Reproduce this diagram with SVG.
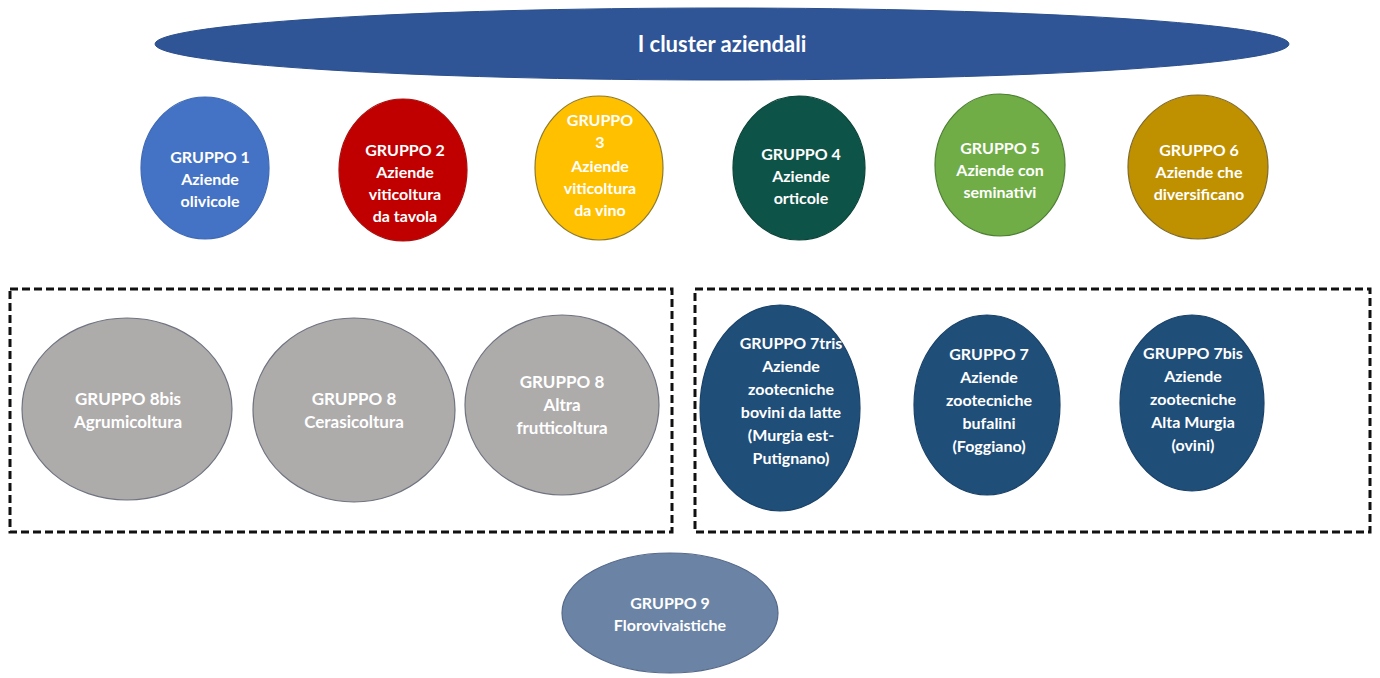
<svg xmlns="http://www.w3.org/2000/svg" width="1380" height="678" viewBox="0 0 1380 678">
  <style>
    .t { font-family: Lato, "Open Sans", "Liberation Sans", sans-serif; font-weight: 700; font-size: 16px; text-anchor: middle; fill: #ffffff; }
    .title { font-size: 22px; }
    .big { font-size: 17px; }
    .box { fill: none; stroke: #111111; stroke-width: 3; stroke-dasharray: 8 4; }
    .c { stroke-width: 1.2; }
  </style>
  <rect width="1380" height="678" fill="#ffffff"/>

  <!-- header -->
  <g id="header">
    <ellipse cx="722" cy="44" rx="567" ry="36" fill="#2F5597" stroke="#2B4F8C" stroke-width="1"/>
    <text class="t title" x="722" y="52">I cluster aziendali</text>
  </g>

  <!-- top row of clusters -->
  <g id="gruppo1">
    <ellipse class="c" cx="205" cy="168" rx="64" ry="71" fill="#4472C4" stroke="#3F69B4"/>
    <text class="t" fill="#F2F5FC"><tspan x="210" y="163">GRUPPO 1</tspan><tspan x="210" y="185">Aziende</tspan><tspan x="210" y="207">olivicole</tspan></text>
  </g>
  <g id="gruppo2">
    <ellipse class="c" cx="403" cy="170" rx="64" ry="71" fill="#C00000" stroke="#A80E0E"/>
    <text class="t"><tspan x="405" y="156">GRUPPO 2</tspan><tspan x="405" y="178">Aziende</tspan><tspan x="405" y="200">viticoltura</tspan><tspan x="405" y="222">da tavola</tspan></text>
  </g>
  <g id="gruppo3">
    <ellipse class="c" cx="599" cy="168" rx="64" ry="72" fill="#FFC000" stroke="#8F7A2A"/>
    <text class="t" fill="#FFF2CC"><tspan x="600" y="126">GRUPPO</tspan><tspan x="600" y="148">3</tspan><tspan x="600" y="172">Aziende</tspan><tspan x="600" y="194">viticoltura</tspan><tspan x="600" y="216">da vino</tspan></text>
  </g>
  <g id="gruppo4">
    <ellipse class="c" cx="799" cy="168" rx="66" ry="72" fill="#0E5347" stroke="#0B4439"/>
    <text class="t" fill="#E6F3F0"><tspan x="801" y="160">GRUPPO 4</tspan><tspan x="801" y="182">Aziende</tspan><tspan x="801" y="204">orticole</tspan></text>
  </g>
  <g id="gruppo5">
    <ellipse class="c" cx="1000" cy="165" rx="65" ry="71" fill="#70AD47" stroke="#4E7F34"/>
    <text class="t" fill="#F6F3CF"><tspan x="1000" y="154">GRUPPO 5</tspan><tspan x="1000" y="176">Aziende con</tspan><tspan x="1000" y="198">seminativi</tspan></text>
  </g>
  <g id="gruppo6">
    <ellipse class="c" cx="1198" cy="167" rx="70" ry="72" fill="#BF9000" stroke="#7F6A2A"/>
    <text class="t" fill="#FFEBA6"><tspan x="1199" y="156">GRUPPO 6</tspan><tspan x="1199" y="178">Aziende che</tspan><tspan x="1199" y="200">diversificano</tspan></text>
  </g>

  <!-- dashed frames -->
  <g id="frames">
    <rect class="box" x="10" y="289" width="662" height="243"/>
    <rect class="box" x="695" y="289" width="675" height="243"/>
  </g>

  <!-- fruit growing clusters -->
  <g id="gruppo8bis">
    <ellipse class="c" cx="127" cy="409" rx="105" ry="91" fill="#AEABAB" stroke="#6F7480"/>
    <text class="t big" fill="#F4F4F4"><tspan x="128" y="405">GRUPPO 8bis</tspan><tspan x="128" y="428">Agrumicoltura</tspan></text>
  </g>
  <g id="gruppo8a">
    <ellipse class="c" cx="354" cy="410" rx="101" ry="92" fill="#AEABAB" stroke="#6F7480"/>
    <text class="t big" fill="#F4F4F4"><tspan x="354" y="405">GRUPPO 8</tspan><tspan x="354" y="428">Cerasicoltura</tspan></text>
  </g>
  <g id="gruppo8b">
    <ellipse class="c" cx="562" cy="405" rx="97" ry="90" fill="#AEABAB" stroke="#6F7480"/>
    <text class="t big" fill="#F4F4F4"><tspan x="562" y="388">GRUPPO 8</tspan><tspan x="562" y="411">Altra</tspan><tspan x="562" y="434">frutticoltura</tspan></text>
  </g>

  <!-- livestock clusters -->
  <g id="gruppo7tris">
    <ellipse class="c" cx="780" cy="408" rx="80" ry="103" fill="#1F4E79" stroke="#1A4268"/>
    <text class="t"><tspan x="791" y="349">GRUPPO 7tris</tspan><tspan x="791" y="372">Aziende</tspan><tspan x="791" y="395">zootecniche</tspan><tspan x="791" y="418">bovini da latte</tspan><tspan x="791" y="441">(Murgia est-</tspan><tspan x="791" y="464">Putignano)</tspan></text>
  </g>
  <g id="gruppo7">
    <ellipse class="c" cx="987" cy="405" rx="73" ry="90" fill="#1F4E79" stroke="#1A4268"/>
    <text class="t"><tspan x="989" y="360">GRUPPO 7</tspan><tspan x="989" y="383">Aziende</tspan><tspan x="989" y="406">zootecniche</tspan><tspan x="989" y="429">bufalini</tspan><tspan x="989" y="452">(Foggiano)</tspan></text>
  </g>
  <g id="gruppo7bis">
    <ellipse class="c" cx="1192" cy="403" rx="72" ry="88" fill="#1F4E79" stroke="#1A4268"/>
    <text class="t"><tspan x="1193" y="359">GRUPPO 7bis</tspan><tspan x="1193" y="382">Aziende</tspan><tspan x="1193" y="405">zootecniche</tspan><tspan x="1193" y="428">Alta Murgia</tspan><tspan x="1193" y="451">(ovini)</tspan></text>
  </g>

  <!-- nursery cluster -->
  <g id="gruppo9">
    <ellipse class="c" cx="670" cy="613" rx="108" ry="60" fill="#6B84A6" stroke="#56698A"/>
    <text class="t" fill="#EEF1F6"><tspan x="670" y="609">GRUPPO 9</tspan><tspan x="670" y="631">Florovivaistiche</tspan></text>
  </g>

  <g id="connectors"/>
</svg>
